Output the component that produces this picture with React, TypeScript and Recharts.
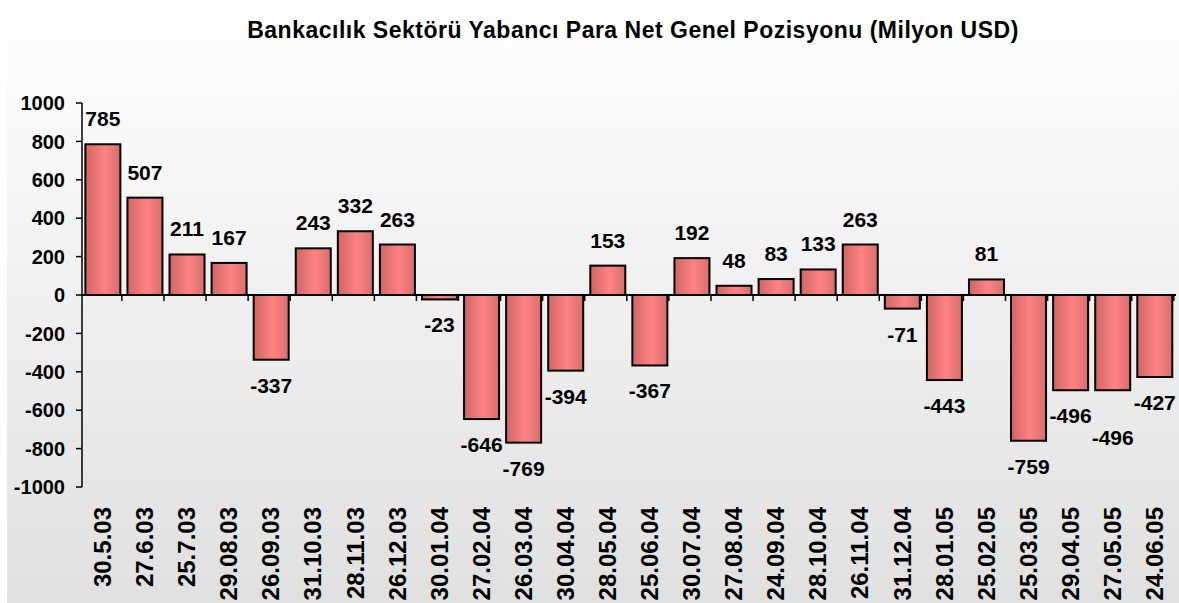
import React from 'react';
import { BarChart, Bar, XAxis, YAxis, ReferenceLine, LabelList } from 'recharts';

const categories = ['30.5.03','27.6.03','25.7.03','29.08.03','26.09.03','31.10.03','28.11.03','26.12.03','30.01.04','27.02.04','26.03.04','30.04.04','28.05.04','25.06.04','30.07.04','27.08.04','24.09.04','28.10.04','26.11.04','31.12.04','28.01.05','25.02.05','25.03.05','29.04.05','27.05.05','24.06.05'];
const values = [785,507,211,167,-337,243,332,263,-23,-646,-769,-394,153,-367,192,48,83,133,263,-71,-443,81,-759,-496,-496,-427];
const yTicks = [-1000,-800,-600,-400,-200,0,200,400,600,800,1000];
const title = 'Bankacılık Sektörü Yabancı Para Net Genel Pozisyonu (Milyon USD)';

const data = categories.map((c, i) => ({ name: c, value: values[i] }));
const FONT = '"Liberation Sans", Arial, sans-serif';

// extra downward shift for a negative label that would collide with the previous one
const labelShift = values.map((v, i) =>
  i > 0 && v < 0 && values[i - 1] < 0 && Math.abs(v - values[i - 1]) < 60 ? 22 : 0
);

const BarShape = (props: any) => {
  const { x, y, width, height, value } = props;
  const top = Math.min(y, y + height);
  const h = Math.abs(height);
  const zeroY = value >= 0 ? top + h : top;
  const gap = width * (0.08 / 0.92);
  const bx = x + width + gap / 2;
  return (
    <g>
      <rect x={x} y={top} width={width} height={h} fill="url(#barGrad)" stroke="#000" strokeWidth={2} />
      <line x1={bx} x2={bx} y1={zeroY} y2={zeroY + 6} stroke="#000" strokeWidth={1.5} />
    </g>
  );
};

const XTick = (props: any) => {
  const { x, y, payload } = props;
  return (
    <text transform={`translate(${x + 8},${y + 20}) rotate(-90)`} textAnchor="end" fontFamily={FONT} fontWeight="bold" fontSize={24} fill="#000">
      {payload.value}
    </text>
  );
};

const DataLabel = (props: any) => {
  const { x, y, width, height, value, index } = props;
  const top = Math.min(y, y + height);
  const bottom = Math.max(y, y + height);
  const cx = x + width / 2;
  const ty = value >= 0 ? top - 18 : bottom + 33 + (labelShift[index] || 0);
  return (
    <text x={cx} y={ty} textAnchor="middle" fontFamily={FONT} fontWeight="bold" fontSize={21} fill="#000">
      {value}
    </text>
  );
};

export default function App() {
  return (
    <div style={{ position: 'absolute', left: 7, top: 0, width: 1172, height: 603, background: 'linear-gradient(#ffffff, #e0e0e0)', overflow: 'hidden' }}>
      <div style={{ position: 'absolute', left: 626, top: 19, transform: 'translateX(-50%)', whiteSpace: 'nowrap', fontFamily: FONT, fontWeight: 'bold', fontSize: 23, lineHeight: '23px', letterSpacing: 0.5, color: '#000' }}>
        {title}
      </div>
      <BarChart width={1172} height={603} data={data} margin={{ top: 103, right: 3, bottom: 0, left: 0 }} barCategoryGap="8%">
        <defs>
          <linearGradient id="barGrad" x1="0" y1="0" x2="1" y2="0">
            <stop offset="0%" stopColor="#cf6666" />
            <stop offset="55%" stopColor="#ff8282" />
            <stop offset="100%" stopColor="#d86e6e" />
          </linearGradient>
        </defs>
        <XAxis dataKey="name" axisLine={false} tickLine={false} tickSize={0} tickMargin={0} height={116} interval={0} tick={<XTick />} />
        <YAxis domain={[-1000, 1000]} ticks={yTicks} width={75} tickSize={6} tickMargin={11} interval={0}
          axisLine={{ stroke: '#000', strokeWidth: 1.5 }} tickLine={{ stroke: '#000', strokeWidth: 1.5 }}
          tick={{ fill: '#000', fontFamily: FONT, fontWeight: 'bold', fontSize: 20 }} allowDataOverflow />
        <Bar dataKey="value" shape={<BarShape />} isAnimationActive={false}>
          <LabelList dataKey="value" content={<DataLabel />} />
        </Bar>
        <ReferenceLine y={0} stroke="#000" strokeWidth={2} />
      </BarChart>
    </div>
  );
}
